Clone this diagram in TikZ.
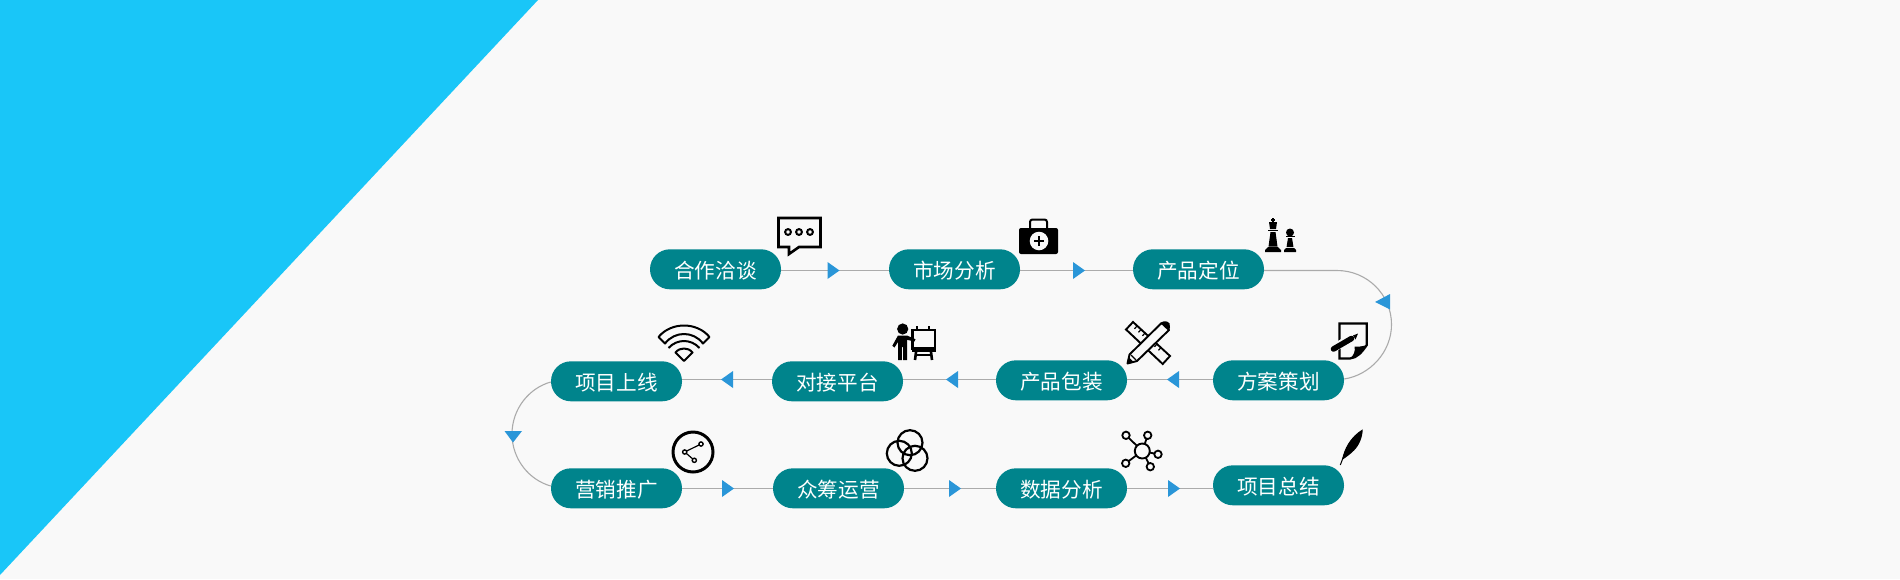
\documentclass[tikz,border=0pt]{standalone}
\usepackage{fontspec}
\setmainfont{Noto Sans CJK SC}
\usetikzlibrary{calc}
\definecolor{bgc}{HTML}{F9F9F9}
\definecolor{wedge}{HTML}{19C6F8}
\definecolor{teal1}{HTML}{00848C}
\definecolor{tipc}{HTML}{2A96D8}
\definecolor{linec}{HTML}{ABABAB}
\tikzset{
  pill/.style={draw=none,fill=teal1,text=white,rounded corners=19.9pt,minimum width=131pt,minimum height=40pt,inner sep=0pt,font=\fontsize{20.6}{20.6}\selectfont,text height=20pt,text depth=1.5pt},
  link/.style={draw=linec,line width=1.1pt},
  flowtip/.style={fill=tipc},
  ink/.style={draw=black,line width=2.2pt,fill=none,line join=miter},
  thin ink/.style={draw=black,line width=1.4pt,fill=none},
  solid ink/.style={fill=black}
}
\begin{document}
\begin{tikzpicture}[x=1pt,y=-1pt]
\useasboundingbox (0,0) rectangle (1900,579);
\fill[bgc] (0,0) rectangle (1900,579);
\fill[wedge] (0,0) -- (538,0) -- (0,575) -- cycle;

% pills
\node[pill] (a1) at (715.5,269.3) {合作洽谈};
\node[pill] (a2) at (954.5,269.3) {市场分析};
\node[pill] (a3) at (1198.5,269.3) {产品定位};
\node[pill] (b4) at (1278.5,380.3) {方案策划};
\node[pill] (b3) at (1061.5,380.3) {产品包装};
\node[pill] (b2) at (837.5,381.3) {对接平台};
\node[pill] (b1) at (616.5,381.3) {项目上线};
\node[pill] (c1) at (616.5,488.3) {营销推广};
\node[pill] (c2) at (838.5,488.3) {众筹运营};
\node[pill] (c3) at (1061.5,488.3) {数据分析};
\node[pill] (c4) at (1278.5,485.3) {项目总结};

% connectors
\draw[link] (a1.east |- 0,270.5) -- (a2.west |- 0,270.5);
\draw[link] (a2.east |- 0,270.5) -- (a3.west |- 0,270.5);
\draw[link] (a3.east |- 0,270.5) -- (1337,270.5) .. controls (1367,270.5) and (1391.5,294.5) .. (1391.5,324.5) .. controls (1391.5,352) and (1370,375) .. (b4.east |- 0,379);
\draw[link] (b4.west |- 0,379.5) -- (b3.east |- 0,379.5);
\draw[link] (b3.west |- 0,379.5) -- (b2.east |- 0,379.5);
\draw[link] (b2.west |- 0,379.5) -- (b1.east |- 0,379.5);
\draw[link] (b1.west |- 0,382) .. controls (529,388) and (512,409) .. (512,434) .. controls (512,459) and (529,480) .. (c1.west |- 0,486);
\draw[link] (c1.east |- 0,488.5) -- (c2.west |- 0,488.5);
\draw[link] (c2.east |- 0,488.5) -- (c3.west |- 0,488.5);
\draw[link] (c3.east |- 0,488.5) -- (c4.west |- 0,488.5);

% arrow tips
\fill[flowtip] (827.5,262) -- (839.5,270.5) -- (827.5,279) -- cycle;
\fill[flowtip] (1073,262) -- (1085,270.5) -- (1073,279) -- cycle;
\fill[flowtip] (1375,302) -- (1390,294) -- (1390,309.5) -- cycle;
\fill[flowtip] (1167,379.5) -- (1179,371) -- (1179,388) -- cycle;
\fill[flowtip] (946,379.5) -- (958,371) -- (958,388) -- cycle;
\fill[flowtip] (721,379.5) -- (733,371) -- (733,388) -- cycle;
\fill[flowtip] (504.5,431) -- (522,431) -- (513,442.5) -- cycle;
\fill[flowtip] (722,480) -- (734,488.5) -- (722,497) -- cycle;
\fill[flowtip] (949,480) -- (961,488.5) -- (949,497) -- cycle;
\fill[flowtip] (1168,480) -- (1180,488.5) -- (1168,497) -- cycle;

% chat bubble
\draw[ink,line width=2.6pt] (778.5,218) -- (820.5,218) -- (820.5,247) -- (799,247) -- (789,254) -- (789,247) -- (778.5,247) -- cycle;
\foreach \cx in {788,799,810} \draw[ink,line width=2pt] (\cx,232) circle (2.9pt);

% medical kit
\draw[ink,line width=2pt,rounded corners=2.5pt] (1030,229) -- (1030,219.5) -- (1047,219.5) -- (1047,229);
\fill[black,rounded corners=2pt] (1019,228) rectangle (1058,254);
\fill[bgc] (1039,241) circle (9.3pt);
\fill[black] (1037.6,236) rectangle (1040.4,246);
\fill[black] (1034,239.6) rectangle (1044,242.4);

% chess pieces
\fill[solid ink] (1272.2,218) rectangle (1273.8,222);
\fill[solid ink] (1271,219.2) rectangle (1275,220.6);
\fill[solid ink] (1269,222) -- (1277,222) -- (1276,229) -- (1270,229) -- cycle;
\fill[solid ink] (1268,229.6) rectangle (1278,231.2);
\fill[solid ink] (1270.5,232) -- (1275.5,232) -- (1277.5,246.5) -- (1268.5,246.5) -- cycle;
\fill[solid ink] (1268,247.2) -- (1278,247.2) -- (1281,250) -- (1281,252) -- (1265,252) -- (1265,250) -- cycle;
\fill[solid ink] (1290,232.5) circle (4pt);
\fill[solid ink] (1285.5,235.6) rectangle (1294.5,237.4);
\fill[solid ink] (1288,238) -- (1292,238) -- (1293.5,247.2) -- (1286.5,247.2) -- cycle;
\fill[solid ink] (1286,248) -- (1294,248) -- (1296,250) -- (1296,252) -- (1284,252) -- (1284,250) -- cycle;

% note and pencil
\draw[ink] (1339.5,323.5) -- (1366.8,323.5) -- (1366.8,345) .. controls (1362,352) and (1357,358) .. (1350,358.5) -- (1339.5,358.5) -- cycle;
\fill[solid ink] (1366.8,345) .. controls (1362,346.5) and (1358,347) .. (1354.5,346.5) .. controls (1355.5,351) and (1354,355) .. (1350,358.5) .. controls (1357,358) and (1362,352) .. cycle;
\draw[bgc,line width=8pt] (1331,349.5) -- (1352,337.5);
\draw[black,line width=5.6pt,line cap=round] (1333.5,349) -- (1351.5,338.5);
\fill[black] (1353,335.5) -- (1358,333.5) -- (1355.5,339.5) -- cycle;

% ruler and pencil
\draw[ink,line width=1.9pt,fill=bgc] (1126,329.5) -- (1133,322) -- (1170,356) -- (1162.7,364) -- cycle;
\foreach \tx/\ty in {1137/326,1141/329.5,1145/333,1153/340.5,1157/344,1161/347.5} \draw[black,line width=1.2pt] (\tx,\ty) -- ++(-2.5,2.8);
\draw[ink,line width=1.9pt,fill=bgc,line join=round] (1127.5,363.5) -- (1129.5,354.5) -- (1161.5,323) -- (1169,330) -- (1137,361) -- cycle;
\fill[black] (1161,322.5) .. controls (1164,320.5) and (1168,321) .. (1169.5,323.5) .. controls (1170.5,326) and (1170,329) .. (1169,330.5) -- cycle;
\fill[black] (1127,364) -- (1128.5,357) -- (1133.8,362) -- cycle;
\draw[black,line width=1.2pt] (1131,355) -- (1136,360);

% presenter and easel
\fill[solid ink] (902.7,329) circle (5.6pt);
\fill[solid ink] (898,335.5) -- (907,335.5) -- (915.5,339.3) -- (914.5,341.5) -- (907,339.8) -- (907,360) -- (903.2,360) -- (903.2,347) -- (901.8,347) -- (901.8,360) -- (898,360) -- (898,342) -- (894.5,347.5) -- (892.3,345.8) -- cycle;
\draw[ink,line width=2.5pt] (912.5,329.8) rectangle (935,348.5);
\fill[solid ink] (911.5,348) rectangle (935.5,352);
\fill[solid ink] (915.8,325.5) rectangle (918,330);
\fill[solid ink] (928.2,325.5) rectangle (930.4,330);
\draw[black,line width=2.6pt] (916,352) -- (915,360);
\draw[black,line width=2.6pt] (931,352) -- (932,360);
\fill[solid ink] (915,354) rectangle (932,355.8);

% wifi
\draw[ink,line width=2pt,line join=round] (658.5,337) .. controls (665,329) and (675,325.5) .. (684,325.5) .. controls (693,325.5) and (703,329) .. (709.5,337) -- (703,343.5) .. controls (698,337) and (691,334) .. (684,334) .. controls (677,334) and (670,337) .. (665,343.5) -- cycle;
\draw[ink,line width=2pt] (668.5,348) .. controls (673,343) and (679,341) .. (684,341) .. controls (689,341) and (695,343) .. (699.5,348);
\draw[ink,line width=2pt,line join=round] (675.5,352.5) .. controls (678,349.5) and (681,348.5) .. (684,348.5) .. controls (687,348.5) and (690,349.5) .. (692.5,352.5) -- (684,361) -- cycle;

% share
\draw[ink,line width=3pt] (693,452) circle (20pt);
\draw[black,line width=1.2pt] (701,444) -- (684.7,452) -- (694.3,460.3);
\foreach \sx/\sy in {701/444,684.7/452,694.3/460.3} \draw[thin ink,fill=bgc] (\sx,\sy) circle (2.1pt);

% three circles
\draw[ink] (910,442.7) circle (12.5pt);
\draw[ink] (899.3,453.3) circle (12.5pt);
\draw[ink] (915,458.3) circle (12.5pt);

% network
\foreach \nx/\ny in {1126/435.3,1147.7/435.3,1158/454.3,1150.3/466.7,1125.7/463.3} {
  \draw[black,line width=1.8pt] (1142.3,451) -- (\nx,\ny);
  \draw[ink,line width=1.8pt,fill=bgc] (\nx,\ny) circle (3.7pt);
}
\draw[ink,line width=1.9pt,fill=bgc] (1142.3,451) circle (7.5pt);

% feather
\fill[solid ink] (1342,460) .. controls (1344,449) and (1350,437) .. (1362.7,429.3) .. controls (1362.5,437) and (1359.5,445) .. (1354,450.5) .. controls (1350,454.5) and (1345,458) .. (1342,460) -- cycle;
\draw[black,line width=1pt] (1340.3,465) -- (1346,450);
\end{tikzpicture}
\end{document}
